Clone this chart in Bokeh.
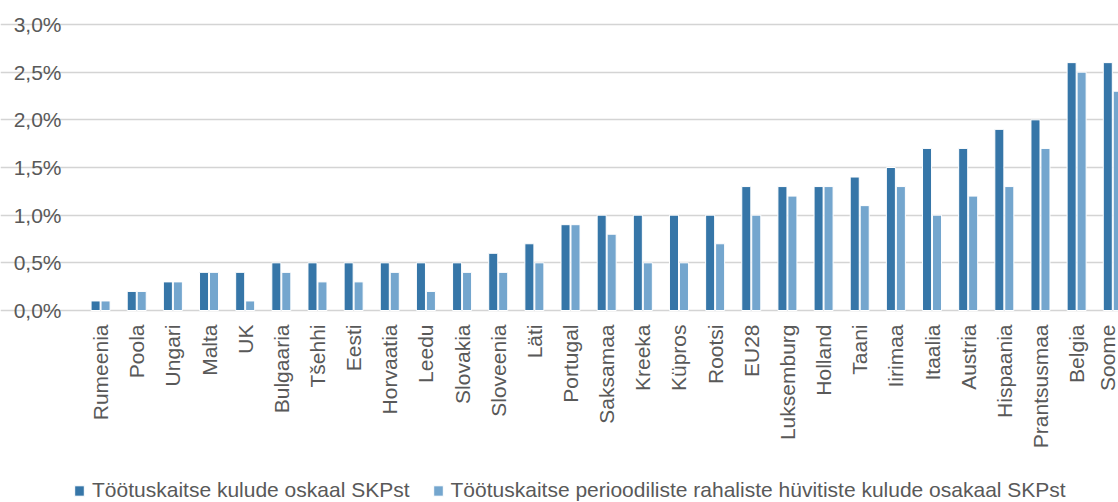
from bokeh.plotting import figure
from bokeh.models import ColumnDataSource, FixedTicker, Range1d, Legend, LegendItem
from bokeh.embed import file_html
from bokeh.resources import INLINE
import math

categories = ["Rumeenia", "Poola", "Ungari", "Malta", "UK", "Bulgaaria", "Tšehhi", "Eesti",
              "Horvaatia", "Leedu", "Slovakia", "Sloveenia", "Läti", "Portugal", "Saksamaa",
              "Kreeka", "Küpros", "Rootsi", "EU28", "Luksemburg", "Holland", "Taani", "Iirimaa",
              "Itaalia", "Austria", "Hispaania", "Prantsusmaa", "Belgia", "Soome"]
kulud = [0.1, 0.2, 0.3, 0.4, 0.4, 0.5, 0.5, 0.5, 0.5, 0.5, 0.5, 0.6, 0.7, 0.9, 1.0,
         1.0, 1.0, 1.0, 1.3, 1.3, 1.3, 1.4, 1.5, 1.7, 1.7, 1.9, 2.0, 2.6, 2.6]
huvitised = [0.1, 0.2, 0.3, 0.4, 0.1, 0.4, 0.3, 0.3, 0.4, 0.2, 0.4, 0.4, 0.5, 0.9, 0.8,
             0.5, 0.5, 0.7, 1.0, 1.2, 1.3, 1.1, 1.3, 1.0, 1.2, 1.3, 1.7, 2.5, 2.3]
series_names = ["Töötuskaitse kulude oskaal SKPst",
                "Töötuskaitse perioodiliste rahaliste hüvitiste kulude osakaal SKPst"]
y_ticks = [0.0, 0.5, 1.0, 1.5, 2.0, 2.5, 3.0]
y_tick_labels = ["0,0%", "0,5%", "1,0%", "1,5%", "2,0%", "2,5%", "3,0%"]

DARK = "#3676A8"
LIGHT = "#74A6CE"
GRAY = "#595959"
FONT = "Liberation Sans"

W, H = 1118, 502
TOP = 24          # pixel row of 3,0 %
ZERO = 310        # pixel row of 0,0 %
LEFT = 82         # pixel column where the plot area starts
STEP = 36.15      # pixels per category

n = len(categories)
idx = list(range(n))
x_start = -0.5 - LEFT / STEP
x_end = -0.5 + (W - LEFT) / STEP
ymax = y_ticks[-1]
y_per_px = ymax / (ZERO - TOP)
y_start = -(H - ZERO) * y_per_px
y_end = ymax + TOP * y_per_px

src = ColumnDataSource(dict(
    x1=[i - 0.138 for i in idx], x2=[i + 0.138 for i in idx],
    k=kulud, h=huvitised))

p = figure(width=W, height=H, output_backend="svg", toolbar_location=None,
           x_range=Range1d(x_start, x_end), y_range=Range1d(y_start, y_end),
           min_border_left=0, min_border_right=0, min_border_top=0,
           min_border_bottom=0)
p.outline_line_color = None

r1 = p.vbar(x="x1", top="k", width=0.25, source=src, fill_color=DARK,
            line_color="white", line_width=1)
r2 = p.vbar(x="x2", top="h", width=0.25, source=src, fill_color=LIGHT,
            line_color="white", line_width=1)

# y axis, drawn at the left edge of the bar area
p.yaxis.fixed_location = -0.5
p.yaxis.ticker = FixedTicker(ticks=y_ticks)
p.yaxis.major_label_overrides = {t: l for t, l in zip(y_ticks, y_tick_labels)}
p.yaxis.axis_line_color = None
p.yaxis.major_tick_line_color = None
p.yaxis.minor_tick_line_color = None
p.yaxis.major_tick_in = 0
p.yaxis.major_tick_out = 0
p.yaxis.major_label_standoff = 21
p.yaxis.major_label_text_font = FONT
p.yaxis.major_label_text_font_size = "21px"
p.yaxis.major_label_text_color = GRAY

# x axis, drawn at value 0
p.xaxis.fixed_location = 0
p.xaxis.ticker = FixedTicker(ticks=idx)
p.xaxis.major_label_overrides = {i: c for i, c in zip(idx, categories)}
p.xaxis.major_label_orientation = math.pi / 2
p.xaxis.axis_line_color = None
p.xaxis.major_tick_line_color = None
p.xaxis.minor_tick_line_color = None
p.xaxis.major_tick_in = 0
p.xaxis.major_tick_out = 0
p.xaxis.major_label_standoff = 14
p.xaxis.major_label_text_font = FONT
p.xaxis.major_label_text_font_size = "21px"
p.xaxis.major_label_text_color = GRAY

p.xgrid.grid_line_color = None
p.ygrid.ticker = FixedTicker(ticks=y_ticks)
p.ygrid.bounds = (-0.5, x_end + 1)
p.ygrid.grid_line_color = "#D4D4D4"
p.ygrid.grid_line_width = 1.5

legend = Legend(items=[LegendItem(label=series_names[0], renderers=[r1]),
                       LegendItem(label=series_names[1], renderers=[r2])],
                orientation="horizontal", location=(73, 0),
                border_line_color=None, background_fill_alpha=0,
                padding=0, margin=0, spacing=22, label_standoff=7,
                glyph_width=12, glyph_height=13,
                label_text_font=FONT, label_text_font_size="21px",
                label_text_color=GRAY)
p.add_layout(legend, "center")

open("out.html", "w").write(file_html(p, INLINE))
